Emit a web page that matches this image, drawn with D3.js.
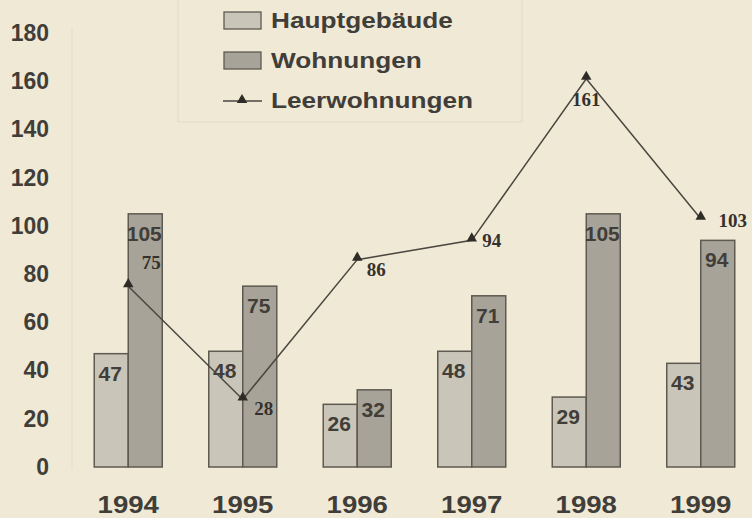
<!DOCTYPE html>
<meta charset="utf-8">
<script src="https://d3js.org/d3.v7.min.js"></script>
<style>
  body { margin: 0; background: #f0e9d6; }
  svg { display: block; }
</style>
<div id="chart"></div>
<script>

// data
var years = ["1994", "1995", "1996", "1997", "1998", "1999"];
var hauptgebaeude = [47, 48, 26, 48, 29, 43];
var wohnungen = [105, 75, 32, 71, 105, 94];
var leerwohnungen = [75, 28, 86, 94, 161, 103];
var yTicks = [0, 20, 40, 60, 80, 100, 120, 140, 160, 180];
var seriesNames = ["Hauptgebäude", "Wohnungen", "Leerwohnungen"];

// where each line label sits relative to its point
var labelOffsets = [[23, -23], [21, 10], [19, 10], [20, 1], [0, 21], [32, 2]];

var width = 752, height = 518;
var textColor = "#413e39";
var strokeColor = "#5e5951";
var lightBar = "#c9c5b8";
var darkBar = "#a7a398";

var svg = d3.select("#chart")
  .append("svg")
    .attr("width", width)
    .attr("height", height);

var x = d3.scaleBand()
  .domain(years)
  .range([71, 758])
  .paddingInner(0)
  .paddingOuter(0);

var y = d3.scaleLinear()
  .domain([0, 180])
  .range([467, 33]);

var barW = 34;

// faint scan lines: plot border and legend frame
svg.append("line")
  .attr("x1", 72).attr("x2", 72).attr("y1", 28).attr("y2", 470)
  .attr("stroke", "#e4ddca").attr("stroke-width", 1);
svg.append("path")
  .attr("d", "M178,0V122H522V0")
  .attr("fill", "none")
  .attr("stroke", "#e2dbc8").attr("stroke-width", 1);

// y axis labels
var yAxis = svg.append("g")
  .attr("transform", "translate(49,0)")
  .call(d3.axisLeft(y).tickValues(yTicks).tickSize(0).tickPadding(0));
yAxis.select(".domain").remove();
yAxis.selectAll("text")
  .attr("fill", textColor)
  .style("font-family", "'Liberation Sans', Arial, sans-serif")
  .style("font-weight", "bold")
  .style("font-size", "23px");

// x axis labels (the scan is a bit stretched sideways)
var xAxis = svg.append("g")
  .attr("transform", "translate(0,496)")
  .call(d3.axisBottom(x).tickSize(0).tickPadding(0));
xAxis.select(".domain").remove();
xAxis.selectAll("text")
  .attr("fill", textColor)
  .attr("transform", "scale(1.15,1)")
  .style("font-family", "'Liberation Sans', Arial, sans-serif")
  .style("font-weight", "bold")
  .style("font-size", "24px");

function center(i) { return x(years[i]) + x.bandwidth() / 2; }

// bars
var groups = [
  {values: hauptgebaeude, fill: lightBar, shift: -barW},
  {values: wohnungen, fill: darkBar, shift: 0}
];

groups.forEach(function(g) {
  svg.append("g")
    .selectAll("rect")
    .data(g.values)
    .enter()
    .append("rect")
      .attr("x", function(d, i) { return center(i) + g.shift; })
      .attr("y", function(d) { return y(d); })
      .attr("width", barW)
      .attr("height", function(d) { return y(0) - y(d); })
      .attr("fill", g.fill)
      .attr("stroke", strokeColor)
      .attr("stroke-width", 1.5);

  svg.append("g")
    .selectAll("text")
    .data(g.values)
    .enter()
    .append("text")
      .attr("x", function(d, i) { return center(i) + g.shift + barW / 2 - 1; })
      .attr("y", function(d) { return y(d) + 27; })
      .attr("text-anchor", "middle")
      .attr("fill", textColor)
      .style("font-family", "'Liberation Sans', Arial, sans-serif")
      .style("font-weight", "bold")
      .style("font-size", "21px")
      .text(function(d) { return d; });
});

// line
var line = d3.line()
  .x(function(d, i) { return center(i); })
  .y(function(d) { return y(d); });

svg.append("path")
  .datum(leerwohnungen)
  .attr("d", line)
  .attr("fill", "none")
  .attr("stroke", "#4a4640")
  .attr("stroke-width", 1.5);

var tri = d3.symbol().type(d3.symbolTriangle).size(48);

svg.append("g")
  .selectAll("path")
  .data(leerwohnungen)
  .enter()
  .append("path")
    .attr("d", tri)
    .attr("transform", function(d, i) { return "translate(" + center(i) + "," + (y(d) - 2) + ")"; })
    .attr("fill", "#2f2c28");

svg.append("g")
  .selectAll("text")
  .data(leerwohnungen)
  .enter()
  .append("text")
    .attr("x", function(d, i) { return center(i) + labelOffsets[i][0]; })
    .attr("y", function(d, i) { return y(d) + labelOffsets[i][1] + 6; })
    .attr("text-anchor", "middle")
    .attr("fill", "#34312d")
    .style("font-family", "'Liberation Serif', 'Times New Roman', serif")
    .style("font-weight", "bold")
    .style("font-size", "19px")
    .text(function(d) { return d; });

// legend
var legend = svg.append("g");
var legendRows = [21, 61, 101];

[lightBar, darkBar].forEach(function(c, i) {
  legend.append("rect")
    .attr("x", 224).attr("y", legendRows[i] - 9)
    .attr("width", 37).attr("height", 17)
    .attr("fill", c)
    .attr("stroke", strokeColor)
    .attr("stroke-width", 1.3);
});

legend.append("line")
  .attr("x1", 223).attr("x2", 262)
  .attr("y1", legendRows[2]).attr("y2", legendRows[2])
  .attr("stroke", "#4a4640").attr("stroke-width", 1.5);
legend.append("path")
  .attr("d", tri)
  .attr("transform", "translate(242," + (legendRows[2] - 1) + ")")
  .attr("fill", "#2f2c28");

legend.append("g")
  .attr("transform", "translate(271,0) scale(1.19,1)")
  .selectAll("text")
  .data(seriesNames)
  .enter()
  .append("text")
    .attr("x", 0)
    .attr("y", function(d, i) { return legendRows[i] + 7; })
    .attr("fill", textColor)
    .style("font-family", "'Liberation Sans', Arial, sans-serif")
    .style("font-weight", "bold")
    .style("font-size", "22px")
    .text(function(d) { return d; });

</script>
